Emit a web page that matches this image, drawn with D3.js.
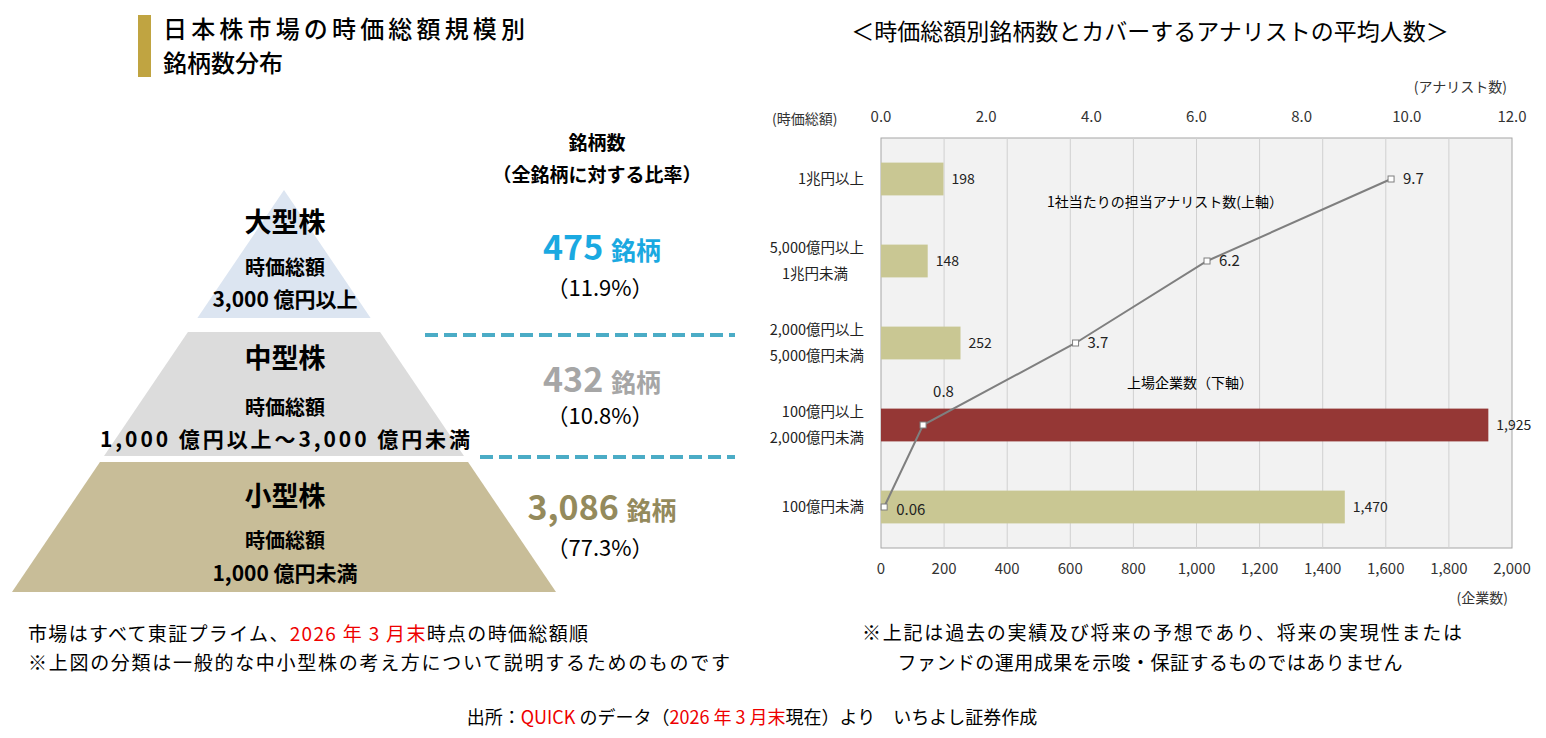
<!DOCTYPE html>
<html>
<head>
<meta charset="utf-8">
<script src="https://d3js.org/d3.v7.min.js"></script>
<style>
body { margin:0; background:#fff; font-family:"Noto Sans CJK JP","Noto Sans",sans-serif; }
</style>
</head>
<body>
<script>
// --- data ---
var tiers = ["大型株", "中型株", "小型株"];
var tierRange = ["3,000 億円以上", "1,000 億円以上～3,000 億円未満", "1,000 億円未満"];
var tierCount = ["475", "432", "3,086"];
var tierShare = ["（11.9%）", "（10.8%）", "（77.3%）"];
var tierColor = ["#dce5f1", "#dcdcdc", "#c8bd98"];
var countColor = ["#1aa9e1", "#a6a6a6", "#948a5c"];

var bands = [["1兆円以上"], ["5,000億円以上", "1兆円未満"], ["2,000億円以上", "5,000億円未満"], ["100億円以上", "2,000億円未満"], ["100億円未満"]];
var companies = [198, 148, 252, 1925, 1470];
var analysts = [9.7, 6.2, 3.7, 0.8, 0.06];
var bottomTicks = [0, 200, 400, 600, 800, 1000, 1200, 1400, 1600, 1800, 2000];
var topTicks = [0, 2, 4, 6, 8, 10, 12];

var W = 1546, H = 738;
var svg = d3.select("body").append("svg").attr("width", W).attr("height", H);

// --- left: title ---
svg.append("rect").attr("x", 138).attr("y", 15).attr("width", 13).attr("height", 62).attr("fill", "#c0a441");
svg.append("text").attr("x", 163).attr("y", 38).attr("font-size", 24).attr("font-weight", 500).attr("textLength", 362).text("日本株市場の時価総額規模別");
svg.append("text").attr("x", 163).attr("y", 72).attr("font-size", 24).attr("font-weight", 500).text("銘柄数分布");

// pyramid
var apex = [284, 190], baseY = 592, halfBase = 272;
function hw(y) { return (y - apex[1]) / (baseY - apex[1]) * halfBase; }
var segs = [[190, 318], [332, 456], [462, 592]];
segs.forEach(function(s, i) {
  var pts = [[apex[0] - hw(s[0]), s[0]], [apex[0] + hw(s[0]), s[0]], [apex[0] + hw(s[1]), s[1]], [apex[0] - hw(s[1]), s[1]]];
  svg.append("polygon").attr("points", pts.map(function(p){return p.join(",");}).join(" ")).attr("fill", tierColor[i]);
});
var tierY = [[232, 275, 307], [368, 415, 447], [506, 548, 581]];
tiers.forEach(function(t, i) {
  svg.append("text").attr("x", 285).attr("y", tierY[i][0]).attr("text-anchor", "middle").attr("font-size", 27).attr("font-weight", 700).text(t);
  svg.append("text").attr("x", 285).attr("y", tierY[i][1]).attr("text-anchor", "middle").attr("font-size", 20).attr("font-weight", 700).text("時価総額");
  svg.append("text").attr("x", 285).attr("y", tierY[i][2]).attr("text-anchor", "middle").attr("font-size", 21).attr("font-weight", 700)
    .attr("textLength", i === 1 ? 370 : null).text(tierRange[i]);
});

// counts column
svg.append("text").attr("x", 597).attr("y", 150).attr("text-anchor", "middle").attr("font-size", 19).attr("font-weight", 700).text("銘柄数");
svg.append("text").attr("x", 597).attr("y", 182).attr("text-anchor", "middle").attr("font-size", 19).attr("font-weight", 700).text("（全銘柄に対する比率）");
var cntY = [[260, 296], [392, 424], [520, 556]];
tierCount.forEach(function(c, i) {
  var t = svg.append("text").attr("x", 602).attr("y", cntY[i][0]).attr("text-anchor", "middle").attr("fill", countColor[i]).attr("font-weight", 700);
  t.append("tspan").attr("font-size", 34).text(c + " ");
  t.append("tspan").attr("font-size", 25).text("銘柄");
  svg.append("text").attr("x", 600).attr("y", cntY[i][1]).attr("text-anchor", "middle").attr("font-size", 22).text(tierShare[i]);
});
[[425, 335], [480, 457]].forEach(function(d) {
  svg.append("line").attr("x1", d[0]).attr("x2", 735).attr("y1", d[1]).attr("y2", d[1])
    .attr("stroke", "#4bacc6").attr("stroke-width", 4).attr("stroke-dasharray", "13,6");
});

svg.append("text").attr("x", 28).attr("y", 641).attr("font-size", 19).attr("textLength", 560).html('市場はすべて東証プライム、<tspan fill="#e00">2026 年 3 月末</tspan>時点の時価総額順');
svg.append("text").attr("x", 28).attr("y", 670).attr("font-size", 19).attr("textLength", 702).text("※上図の分類は一般的な中小型株の考え方について説明するためのものです");

// --- right: chart ---
svg.append("text").attr("x", 1150).attr("y", 40).attr("text-anchor", "middle").attr("font-size", 23).text("＜時価総額別銘柄数とカバーするアナリストの平均人数＞");

var L = 881, R = 1512, T = 138, B = 548;
var x = d3.scaleLinear().domain([0, 2000]).range([L, R]);
var x2 = d3.scaleLinear().domain([0, 12]).range([L, R]);
var y = d3.scaleBand().domain(d3.range(bands.length)).range([T, B]).paddingInner(0.6).paddingOuter(0.3);

svg.append("rect").attr("x", L).attr("y", T).attr("width", R - L).attr("height", B - T).attr("fill", "#f2f2f2").attr("stroke", "#a6a6a6");
svg.selectAll(".grid").data(bottomTicks.slice(1, -1)).enter().append("line")
  .attr("x1", x).attr("x2", x).attr("y1", T).attr("y2", B).attr("stroke", "#d0d0d0");

svg.selectAll(".bar").data(companies).enter().append("rect")
  .attr("x", L).attr("y", function(d, i){ return y(i); }).attr("height", y.bandwidth())
  .attr("width", function(d){ return x(d) - L; })
  .attr("fill", function(d, i){ return i === 3 ? "#953735" : "#c9c793"; });
svg.selectAll(".bl").data(companies).enter().append("text")
  .attr("x", function(d){ return x(d) + 8; }).attr("y", function(d, i){ return y(i) + y.bandwidth()/2 + 5; })
  .attr("font-size", 14).attr("fill", "#222").text(d3.format(","));

var cy = function(i){ return y(i) + y.bandwidth()/2; };
svg.append("path").datum(analysts)
  .attr("d", d3.line().x(function(d){ return x2(d); }).y(function(d, i){ return cy(i); }))
  .attr("fill", "none").attr("stroke", "#7f7f7f").attr("stroke-width", 2);
svg.selectAll(".pt").data(analysts).enter().append("rect")
  .attr("x", function(d){ return x2(d) - 3; }).attr("y", function(d, i){ return cy(i) - 3; })
  .attr("width", 6).attr("height", 6).attr("fill", "#fff").attr("stroke", "#7f7f7f");
var aOff = [[12, 5], [12, 5], [12, 5], [10, -28], [12, 8]];
svg.selectAll(".pl").data(analysts).enter().append("text")
  .attr("x", function(d, i){ return x2(d) + aOff[i][0]; }).attr("y", function(d, i){ return cy(i) + aOff[i][1]; })
  .attr("font-size", 15).attr("fill", "#222").text(function(d){ return d; });

svg.append("text").attr("x", 1165).attr("y", 207).attr("text-anchor", "middle").attr("font-size", 14).text("1社当たりの担当アナリスト数(上軸）");
svg.append("text").attr("x", 1190).attr("y", 388).attr("text-anchor", "middle").attr("font-size", 14).text("上場企業数（下軸）");

// axes
svg.selectAll(".bt").data(bottomTicks).enter().append("text")
  .attr("x", x).attr("y", 574).attr("text-anchor", "middle").attr("font-size", 15).attr("fill", "#333").text(d3.format(","));
svg.selectAll(".tt").data(topTicks).enter().append("text")
  .attr("x", x2).attr("y", 122).attr("text-anchor", "middle").attr("font-size", 15).attr("fill", "#333").text(d3.format(".1f"));
svg.selectAll(".cat").data(bands).enter().append("text")
  .attr("x", 864).attr("y", function(d, i){ return cy(i) + 5 - (d.length - 1) * 13; })
  .attr("text-anchor", "end").attr("font-size", 14.5).attr("fill", "#222")
  .each(function(d){
    var t = d3.select(this);
    d.forEach(function(s, j){ t.append("tspan").attr("x", j === 1 && s.length < 6 ? 848 : 864).attr("dy", j ? 26 : 0).text(s); });
  });
svg.append("text").attr("x", 772).attr("y", 124).attr("font-size", 14).attr("fill", "#333").text("(時価総額)");
svg.append("text").attr("x", 1507).attr("y", 92).attr("text-anchor", "end").attr("font-size", 14).attr("fill", "#333").text("(アナリスト数)");
svg.append("text").attr("x", 1508).attr("y", 603).attr("text-anchor", "end").attr("font-size", 14).attr("fill", "#333").text("(企業数)");

svg.append("text").attr("x", 1162).attr("y", 640).attr("text-anchor", "middle").attr("font-size", 19).attr("textLength", 600).text("※上記は過去の実績及び将来の予想であり、将来の実現性または");
svg.append("text").attr("x", 1150).attr("y", 670).attr("text-anchor", "middle").attr("font-size", 19).attr("textLength", 505).text("ファンドの運用成果を示唆・保証するものではありません");

svg.append("text").attr("x", 752).attr("y", 724).attr("text-anchor", "middle").attr("font-size", 18)
  .html('出所：<tspan fill="#e00">QUICK</tspan> のデータ（<tspan fill="#e00">2026 年 3 月末</tspan>現在）より　いちよし証券作成');
</script>
</body>
</html>
